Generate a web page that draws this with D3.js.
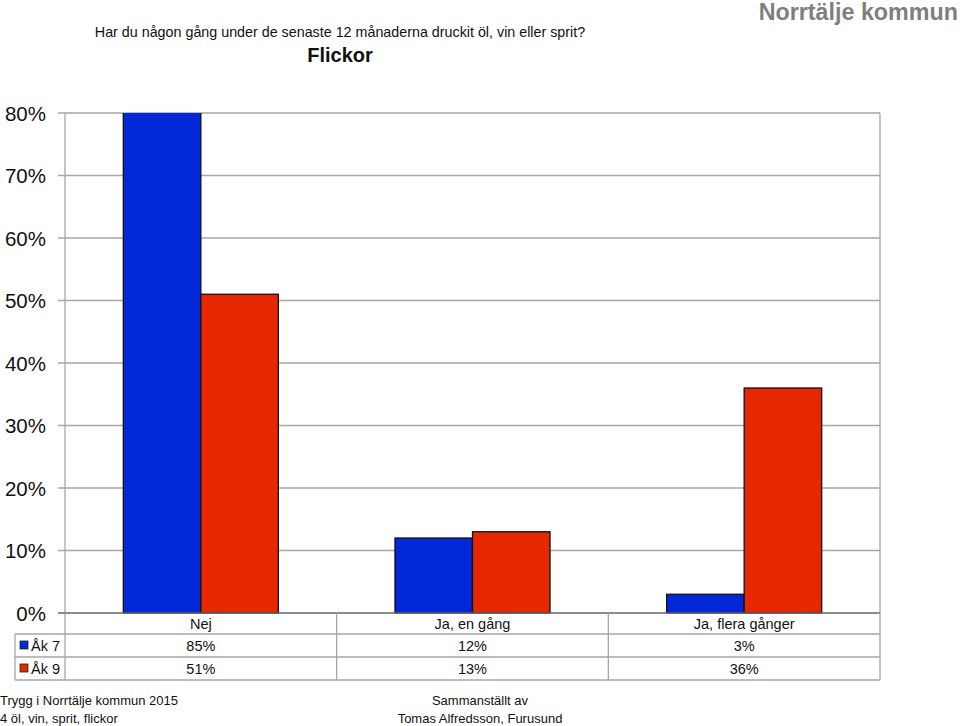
<!DOCTYPE html>
<html><head><meta charset="utf-8">
<script src="https://cdn.jsdelivr.net/npm/d3@7"></script>
<style>body{margin:0;background:#fff}svg{display:block}text{font-family:"Liberation Sans",Arial,sans-serif}</style>
</head><body>
<script>
const categories = ["Nej", "Ja, en gång", "Ja, flera gånger"];
const seriesNames = ["Åk 7", "Åk 9"];
const ak7 = [85, 12, 3];
const ak9 = [51, 13, 36];
const yTicks = [0, 10, 20, 30, 40, 50, 60, 70, 80];
const colors = ["#0228d8", "#e52800"];
const seriesValues = [ak7, ak9];

const W = 960, H = 726;
const m = {left: 65, right: 880, top: 113, bottom: 613};
const svg = d3.select("body").append("svg").attr("width", W).attr("height", H);

const y = d3.scaleLinear().domain([0, 80]).range([m.bottom, m.top]);
const x0 = d3.scaleBand().domain(categories).range([m.left, m.right]);
const x1 = d3.scaleBand().domain(seriesNames).range([0, x0.bandwidth()]).paddingOuter(0.7525).paddingInner(0);

// gridlines
svg.append("g").selectAll("line").data(yTicks.filter(d => d > 0)).join("line")
  .attr("x1", m.left - 7).attr("x2", m.right)
  .attr("y1", d => y(d)).attr("y2", d => y(d))
  .attr("stroke", "#a6a6a6").attr("stroke-width", 1.3);
// plot borders
svg.append("line").attr("x1", m.left).attr("x2", m.left).attr("y1", m.top).attr("y2", m.bottom).attr("stroke", "#a6a6a6").attr("stroke-width", 1.3);
svg.append("line").attr("x1", m.right).attr("x2", m.right).attr("y1", m.top).attr("y2", m.bottom).attr("stroke", "#a6a6a6").attr("stroke-width", 1.3);

// y labels
svg.append("g").selectAll("text").data(yTicks).join("text")
  .attr("x", 46).attr("y", d => y(d) + 7.5)
  .attr("text-anchor", "end").attr("font-size", 20.5).attr("fill", "#111")
  .text(d => d + "%");

// bars
const clip = svg.append("clipPath").attr("id", "pc").append("rect")
  .attr("x", m.left).attr("y", m.top).attr("width", m.right - m.left).attr("height", m.bottom - m.top + 1);
const bars = svg.append("g").attr("clip-path", "url(#pc)");
seriesNames.forEach((s, si) => {
  bars.append("g").selectAll("rect").data(categories).join("rect")
    .attr("x", c => x0(c) + x1(s))
    .attr("width", x1.bandwidth())
    .attr("y", (c, i) => y(seriesValues[si][i]))
    .attr("height", (c, i) => y(0) - y(seriesValues[si][i]))
    .attr("fill", colors[si]).attr("stroke", "#111").attr("stroke-width", 1.3);
});
// baseline
svg.append("line").attr("x1", m.left - 7).attr("x2", m.right).attr("y1", m.bottom).attr("y2", m.bottom).attr("stroke", "#666").attr("stroke-width", 1.3);

// data table
const rowY = [613, 634, 657, 680];
const tg = svg.append("g").attr("stroke", "#a6a6a6").attr("stroke-width", 1.3);
tg.append("line").attr("x1", 15).attr("x2", m.right).attr("y1", rowY[1]).attr("y2", rowY[1]);
tg.append("line").attr("x1", 15).attr("x2", m.right).attr("y1", rowY[2]).attr("y2", rowY[2]);
tg.append("line").attr("x1", 15).attr("x2", m.right).attr("y1", rowY[3]).attr("y2", rowY[3]);
tg.append("line").attr("x1", 15).attr("x2", 15).attr("y1", rowY[1]).attr("y2", rowY[3]);
const colEdges = [m.left, ...categories.map(c => x0(c) + x0.bandwidth())];
colEdges.forEach(xe => tg.append("line").attr("x1", xe).attr("x2", xe).attr("y1", rowY[0]).attr("y2", rowY[3]));

svg.append("g").selectAll("text").data(categories).join("text")
  .attr("x", c => x0(c) + x0.bandwidth() / 2).attr("y", 629)
  .attr("text-anchor", "middle").attr("font-size", 14.5).attr("fill", "#111").text(c => c);
seriesNames.forEach((s, si) => {
  const ry = rowY[si + 1];
  svg.append("rect").attr("x", 20).attr("y", ry + 7).attr("width", 8).attr("height", 8)
    .attr("fill", colors[si]).attr("stroke", "#222").attr("stroke-width", 0.8);
  svg.append("text").attr("x", 31).attr("y", ry + 17).attr("font-size", 14.5).attr("fill", "#111").text(s);
  svg.append("g").selectAll("text").data(categories).join("text")
    .attr("x", c => x0(c) + x0.bandwidth() / 2).attr("y", ry + 17)
    .attr("text-anchor", "middle").attr("font-size", 14.5).attr("fill", "#111")
    .text((c, i) => seriesValues[si][i] + "%");
});

// titles
svg.append("text").attr("x", 340).attr("y", 37).attr("text-anchor", "middle")
  .attr("font-family", "Carlito, Calibri, 'Liberation Sans', sans-serif").attr("font-size", 14.3).attr("fill", "#111")
  .text("Har du någon gång under de senaste 12 månaderna druckit öl, vin eller sprit?");
svg.append("text").attr("x", 340).attr("y", 62).attr("text-anchor", "middle")
  .attr("font-size", 20).attr("font-weight", "bold").attr("fill", "#111").text("Flickor");
svg.append("text").attr("x", 958).attr("y", 20).attr("text-anchor", "end")
  .attr("font-size", 23.3).attr("font-weight", "bold").attr("fill", "#7f7f7f").text("Norrtälje kommun");

// footer
svg.append("text").attr("x", 0).attr("y", 705).attr("font-size", 13).attr("fill", "#111").text("Trygg i Norrtälje kommun 2015");
svg.append("text").attr("x", 0).attr("y", 723).attr("font-size", 13).attr("fill", "#111").text("4 öl, vin, sprit, flickor");
svg.append("text").attr("x", 480).attr("y", 705).attr("text-anchor", "middle").attr("font-size", 13).attr("fill", "#111").text("Sammanställt av");
svg.append("text").attr("x", 480).attr("y", 723).attr("text-anchor", "middle").attr("font-size", 13).attr("fill", "#111").text("Tomas Alfredsson, Furusund");
</script>
</body></html>
